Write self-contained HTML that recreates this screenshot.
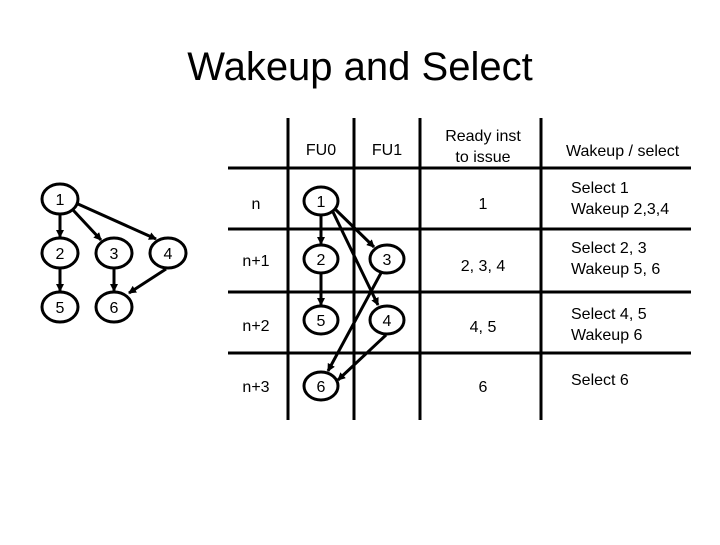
<!DOCTYPE html>
<html><head><style>
body{margin:0;background:#fff;width:720px;height:540px;overflow:hidden}
svg text{font-family:"Liberation Sans",sans-serif;font-size:16px;fill:#000}
</style></head><body>
<svg width="720" height="540" viewBox="0 0 720 540">
<defs><marker id="a" markerWidth="8" markerHeight="8" refX="7" refY="4" orient="auto" markerUnits="userSpaceOnUse"><path d="M0,0 L8,4 L0,8 z" fill="#000"/></marker></defs>
<text x="360" y="80" text-anchor="middle" style="font-size:40px">Wakeup and Select</text>
<g stroke="#000" stroke-width="3" fill="none">
<line x1="288" y1="118" x2="288" y2="420"/>
<line x1="354" y1="118" x2="354" y2="420"/>
<line x1="420" y1="118" x2="420" y2="420"/>
<line x1="541" y1="118" x2="541" y2="420"/>
<line x1="228" y1="168" x2="691" y2="168"/>
<line x1="228" y1="229" x2="691" y2="229"/>
<line x1="228" y1="292" x2="691" y2="292"/>
<line x1="228" y1="353" x2="691" y2="353"/>
</g>
<g stroke="#000" stroke-width="3" fill="#fff">
<ellipse cx="60" cy="199" rx="18" ry="15"/><ellipse cx="60" cy="253" rx="18" ry="15"/>
<ellipse cx="114" cy="253" rx="18" ry="15"/><ellipse cx="168" cy="253" rx="18" ry="15"/>
<ellipse cx="60" cy="307" rx="18" ry="15"/><ellipse cx="114" cy="307" rx="18" ry="15"/>
<ellipse cx="321" cy="201" rx="17" ry="14"/><ellipse cx="321" cy="259" rx="17" ry="14"/>
<ellipse cx="321" cy="320" rx="17" ry="14"/><ellipse cx="321" cy="386" rx="17" ry="14"/>
<ellipse cx="387" cy="259" rx="17" ry="14"/><ellipse cx="387" cy="320" rx="17" ry="14"/>
</g>
<g stroke="#000" stroke-width="3" marker-end="url(#a)">
<line x1="60" y1="214" x2="60" y2="237"/>
<line x1="73" y1="210" x2="101" y2="240"/>
<line x1="78" y1="204" x2="156" y2="239"/>
<line x1="60" y1="268" x2="60" y2="291"/>
<line x1="114" y1="268" x2="114" y2="291"/>
<line x1="166" y1="269" x2="129" y2="293"/>
<line x1="321" y1="215" x2="321" y2="244"/>
<line x1="335" y1="209" x2="374" y2="247"/>
<line x1="333" y1="212" x2="378" y2="305"/>
<line x1="321" y1="273" x2="321" y2="305"/>
<line x1="381" y1="273" x2="328" y2="371"/>
<line x1="386" y1="335" x2="338" y2="380"/>
</g>
<g text-anchor="middle">
<text x="60" y="205">1</text><text x="60" y="259">2</text><text x="114" y="259">3</text>
<text x="168" y="259">4</text><text x="60" y="313">5</text><text x="114" y="313">6</text>
<text x="321" y="207">1</text><text x="321" y="265">2</text><text x="321" y="326">5</text>
<text x="321" y="392">6</text><text x="387" y="265">3</text><text x="387" y="326">4</text>
<text x="256" y="209">n</text><text x="256" y="266">n+1</text><text x="256" y="331">n+2</text><text x="256" y="392">n+3</text>
<text x="321" y="155">FU0</text><text x="387" y="155">FU1</text>
<text x="483" y="141">Ready inst</text><text x="483" y="162">to issue</text>
<text x="483" y="209">1</text><text x="483" y="271">2, 3, 4</text><text x="483" y="332">4, 5</text><text x="483" y="392">6</text>
</g>
<text x="566" y="156">Wakeup / select</text>
<text x="571" y="193">Select 1</text><text x="571" y="214">Wakeup 2,3,4</text>
<text x="571" y="253">Select 2, 3</text><text x="571" y="274">Wakeup 5, 6</text>
<text x="571" y="319">Select 4, 5</text><text x="571" y="340">Wakeup 6</text>
<text x="571" y="385">Select 6</text>
</svg>
</body></html>
